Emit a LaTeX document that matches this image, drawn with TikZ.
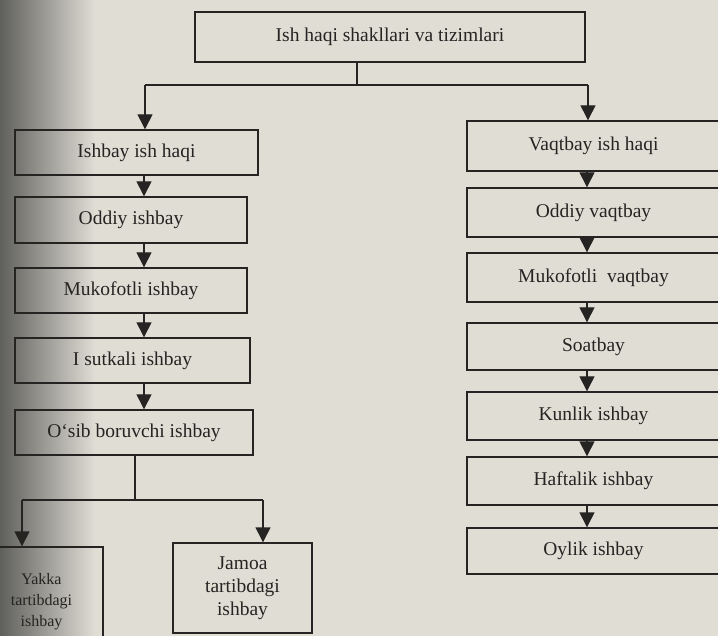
\documentclass[tikz,border=0pt]{standalone}
\usepackage{fontspec}
\setmainfont{Liberation Serif}
\usetikzlibrary{arrows.meta,calc}
\definecolor{paper}{RGB}{224,221,213}
\definecolor{shadow}{RGB}{95,95,92}
\definecolor{ink}{RGB}{38,36,34}
\tikzset{
  stepbox/.style={draw=ink, line width=1.4pt, rectangle, inner sep=0pt, text=ink,
    font=\fontsize{19.5}{23}\selectfont, align=center},
  arr/.style={draw=ink, line width=1.4pt, -{Triangle[length=15pt,width=15pt]}},
  ln/.style={draw=ink, line width=1.4pt},
}
\begin{document}
\begin{tikzpicture}[x=1pt,y=-1pt]
\useasboundingbox (0,0) rectangle (718,636);
\clip (0,0) rectangle (718,636);
\fill[paper] (0,0) rectangle (718,636);
\shade[left color=shadow, right color=paper, shading=axis] (0,0) rectangle (95,636);
% top
\node[stepbox, minimum width=390pt, minimum height=50pt] (top) at (390,37) {Ish haqi shakllari va tizimlari};
\coordinate (jt) at (357,85);
\coordinate (jl) at (145,85);
\coordinate (jr) at (588,85);
% left column
\node[stepbox, minimum width=243pt, minimum height=45pt] (l1) at (136.5,152.5) {Ishbay ish haqi};
\node[stepbox, minimum width=232pt, minimum height=46pt] (l2) at (131,220) {Oddiy ishbay};
\node[stepbox, minimum width=232pt, minimum height=45pt] (l3) at (131,290.5) {Mukofotli ishbay};
\node[stepbox, minimum width=235pt, minimum height=45pt] (l4) at (132.5,360.5) {I sutkali ishbay};
\node[stepbox, minimum width=238pt, minimum height=45pt] (l5) at (134,432.5) {O‘sib boruvchi ishbay};
\coordinate (js) at (135,500);
\coordinate (jsl) at (22,500);
\coordinate (jsr) at (263,500);
\node[stepbox, minimum width=123pt, minimum height=110pt, font=\fontsize{16}{21}\selectfont] (yakka) at (41.5,602) {Yakka\\tartibdagi\\ishbay};
\node[stepbox, minimum width=139pt, minimum height=90pt] (jamoa) at (242.5,588) {Jamoa\\tartibdagi\\ishbay};
% right column
\node[stepbox, minimum width=253pt, minimum height=50pt] (r1) at (593.5,146) {Vaqtbay ish haqi};
\node[stepbox, minimum width=253pt, minimum height=49pt] (r2) at (593.5,212.5) {Oddiy vaqtbay};
\node[stepbox, minimum width=253pt, minimum height=49pt] (r3) at (593.5,277.5) {Mukofotli\ \ vaqtbay};
\node[stepbox, minimum width=253pt, minimum height=47pt] (r4) at (593.5,346.5) {Soatbay};
\node[stepbox, minimum width=253pt, minimum height=48pt] (r5) at (593.5,416) {Kunlik ishbay};
\node[stepbox, minimum width=253pt, minimum height=48pt] (r6) at (593.5,481) {Haftalik ishbay};
\node[stepbox, minimum width=253pt, minimum height=46pt] (r7) at (593.5,551) {Oylik ishbay};
% connectors
\draw[ln] (top.south -| jt) -- (jt);
\draw[ln] (jl) -- (jr);
\draw[arr] (jl) -- (l1.north -| jl);
\draw[arr] (jr) -- (r1.north -| jr);
\foreach \a/\b in {l1/l2,l2/l3,l3/l4,l4/l5}{
  \draw[arr] (\a.south -| 144,0) -- (\b.north -| 144,0);
}
\foreach \a/\b in {r1/r2,r2/r3,r3/r4,r4/r5,r5/r6,r6/r7}{
  \draw[arr] (\a.south -| 587,0) -- (\b.north -| 587,0);
}
\draw[ln] (l5.south -| js) -- (js);
\draw[ln] (jsl) -- (jsr);
\draw[arr] (jsl) -- (yakka.north -| jsl);
\draw[arr] (jsr) -- (jamoa.north -| jsr);
\end{tikzpicture}
\end{document}
